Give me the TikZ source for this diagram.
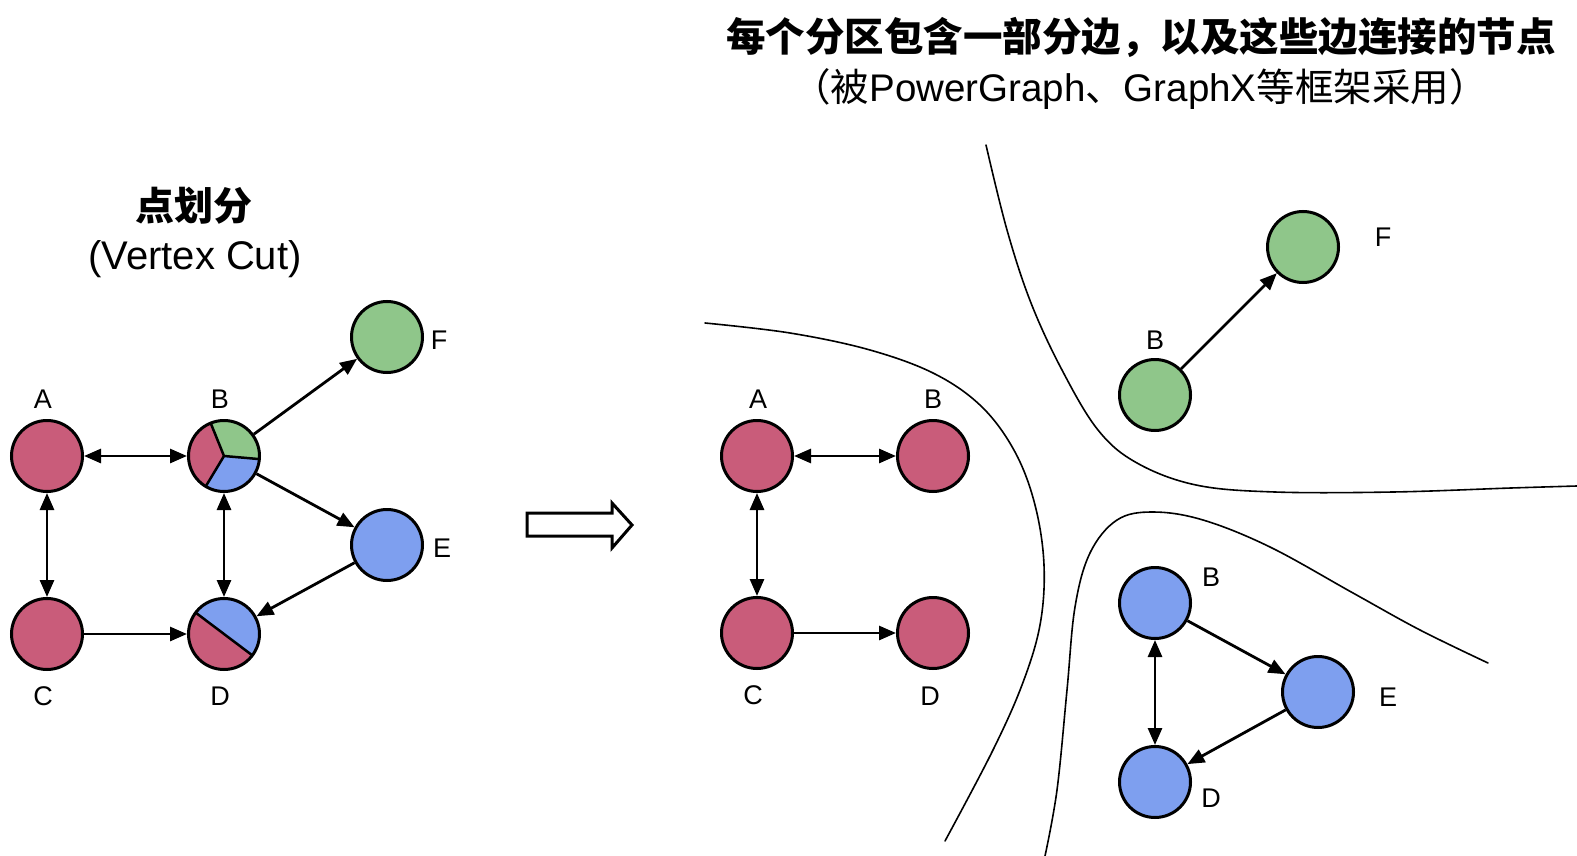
\documentclass[tikz,border=0pt]{standalone}
\usepackage{fontspec}
\setmainfont{Liberation Sans}
\newfontfamily\cjk{Noto Sans CJK SC}
\usetikzlibrary{arrows.meta}
\definecolor{vred}{HTML}{C95C7A}
\definecolor{vgreen}{HTML}{8FC68A}
\definecolor{vblue}{HTML}{7E9FEF}
\tikzset{
 vtx/.style={circle, draw=black, line width=3pt, minimum size=71pt, inner sep=0pt},
 lbl/.style={font=\fontsize{27}{29}\selectfont, inner sep=0pt},
 edge/.style={line width=2.8pt, -{Triangle[length=17pt,width=14pt]}},
 dedge/.style={line width=2.8pt, {Triangle[length=17pt,width=14pt]}-{Triangle[length=17pt,width=14pt]}},
 cut/.style={line width=1.6pt, line cap=round},
 divl/.style={line width=2.5pt},
}
\begin{document}
\begin{tikzpicture}[x=1pt,y=-1pt]
\fill[white] (0,0) rectangle (1577,856);
\useasboundingbox (0,0) rectangle (1577,856);

% ---------- titles ----------
\node[font=\cjk\bfseries\fontsize{39}{42}\selectfont, inner sep=0pt] (t1) at (194,206) {点划分};
\node[font=\fontsize{40}{44}\selectfont, inner sep=0pt] (t2) at (195,259) {(Vertex Cut)};
\node[font=\cjk\bfseries\fontsize{39.5}{42}\selectfont, inner sep=0pt] (t3) at (1141,37) {每个分区包含一部分边，以及这些边连接的节点};
\node[font=\fontsize{38.5}{42}\selectfont, inner sep=0pt] (t4) at (1140,89) {{\cjk （被}PowerGraph{\cjk 、}GraphX{\cjk 等框架采用）}};

% ---------- left graph ----------
\coordinate (Bc) at (224,456);
\coordinate (Dc) at (224,634);
\begin{scope}
\clip (Bc) circle (36);
\fill[vgreen] (Bc) -- ([shift={(-112:80)}]Bc) -- ([shift={(-53:80)}]Bc) -- ([shift={(5:80)}]Bc) -- cycle;
\fill[vblue] (Bc) -- ([shift={(5:80)}]Bc) -- ([shift={(63:80)}]Bc) -- ([shift={(121:80)}]Bc) -- cycle;
\fill[vred] (Bc) -- ([shift={(121:80)}]Bc) -- ([shift={(184:80)}]Bc) -- ([shift={(248:80)}]Bc) -- cycle;
\draw[divl] (Bc) -- ([shift={(-112:40)}]Bc) (Bc) -- ([shift={(5:40)}]Bc) (Bc) -- ([shift={(121:40)}]Bc);
\end{scope}
\begin{scope}
\clip (Dc) circle (36);
\fill[vblue] (Dc) -- ([shift={(-143:80)}]Dc) -- ([shift={(-53:80)}]Dc) -- ([shift={(37:80)}]Dc) -- cycle;
\fill[vred] (Dc) -- ([shift={(37:80)}]Dc) -- ([shift={(127:80)}]Dc) -- ([shift={(217:80)}]Dc) -- cycle;
\draw[divl] ([shift={(-143:40)}]Dc) -- ([shift={(37:40)}]Dc);
\end{scope}

\node[vtx, fill=vred] (A) at (47,456) {};
\node[vtx] (B) at (Bc) {};
\node[vtx, fill=vred] (C) at (47,634) {};
\node[vtx] (D) at (Dc) {};
\node[vtx, fill=vblue] (E) at (387,545) {};
\node[vtx, fill=vgreen] (F) at (387,337) {};

\node[lbl] (lA) at (43,399) {A};
\node[lbl] (lB) at (220,399) {B};
\node[lbl] (lC) at (43,696) {C};
\node[lbl] (lD) at (220,696) {D};
\node[lbl] (lE) at (442,548) {E};
\node[lbl] (lF) at (439,340) {F};

\draw[dedge] (A) -- (B);
\draw[dedge] (A) -- (C);
\draw[edge] (C) -- (D);
\draw[dedge] (B) -- (D);
\draw[edge] (B) -- (F);
\draw[edge] (B) -- (E);
\draw[edge] (E) -- (D);

% ---------- hollow arrow ----------
\draw[line width=3pt, line join=miter, fill=white] (527,513) -- (612,513) -- (612,503) -- (632,525) -- (612,548) -- (612,536) -- (527,536) -- cycle;

% ---------- cut lines ----------
\draw[cut] plot[smooth, tension=0.6] coordinates {(705,323) (790,333) (870,350) (935,374) (982,407) (1015,452) (1035,505) (1044,565) (1040,625) (1022,685) (992,752) (945,841)};
\draw[cut] plot[smooth, tension=0.6] coordinates {(986,145) (1007,230) (1031,303) (1062,370) (1098,430) (1137,463) (1196,485) (1275,492) (1393,492) (1511,488) (1577,486)};
\draw[cut] plot[smooth, tension=0.6] coordinates {(1045,856) (1057,790) (1067,690) (1075,607) (1090,553) (1117,520) (1153,512) (1203,520) (1270,547) (1353,593) (1420,630) (1488,663)};

% ---------- right: red partition ----------
\node[vtx, fill=vred] (rA) at (757,456) {};
\node[vtx, fill=vred] (rB) at (933,456) {};
\node[vtx, fill=vred] (rC) at (757,633) {};
\node[vtx, fill=vred] (rD) at (933,633) {};
\node[lbl] (lrA) at (758,399) {A};
\node[lbl] (lrB) at (933,399) {B};
\node[lbl] (lrC) at (753,695) {C};
\node[lbl] (lrD) at (930,696) {D};
\draw[dedge] (rA) -- (rB);
\draw[dedge] (rA) -- (rC);
\draw[edge] (rC) -- (rD);

% ---------- right: green partition ----------
\node[vtx, fill=vgreen] (gB) at (1155,395) {};
\node[vtx, fill=vgreen] (gF) at (1303,247) {};
\node[lbl] (lgB) at (1155,340) {B};
\node[lbl] (lgF) at (1383,237) {F};
\draw[edge] (gB) -- (gF);

% ---------- right: blue partition ----------
\node[vtx, fill=vblue] (bB) at (1155,603) {};
\node[vtx, fill=vblue] (bE) at (1318,692) {};
\node[vtx, fill=vblue] (bD) at (1155,782) {};
\node[lbl] (lbB) at (1211,577) {B};
\node[lbl] (lbE) at (1388,697) {E};
\node[lbl] (lbD) at (1211,798) {D};
\draw[edge] (bB) -- (bE);
\draw[edge] (bE) -- (bD);
\draw[dedge] (bB) -- (bD);
\end{tikzpicture}
\end{document}
